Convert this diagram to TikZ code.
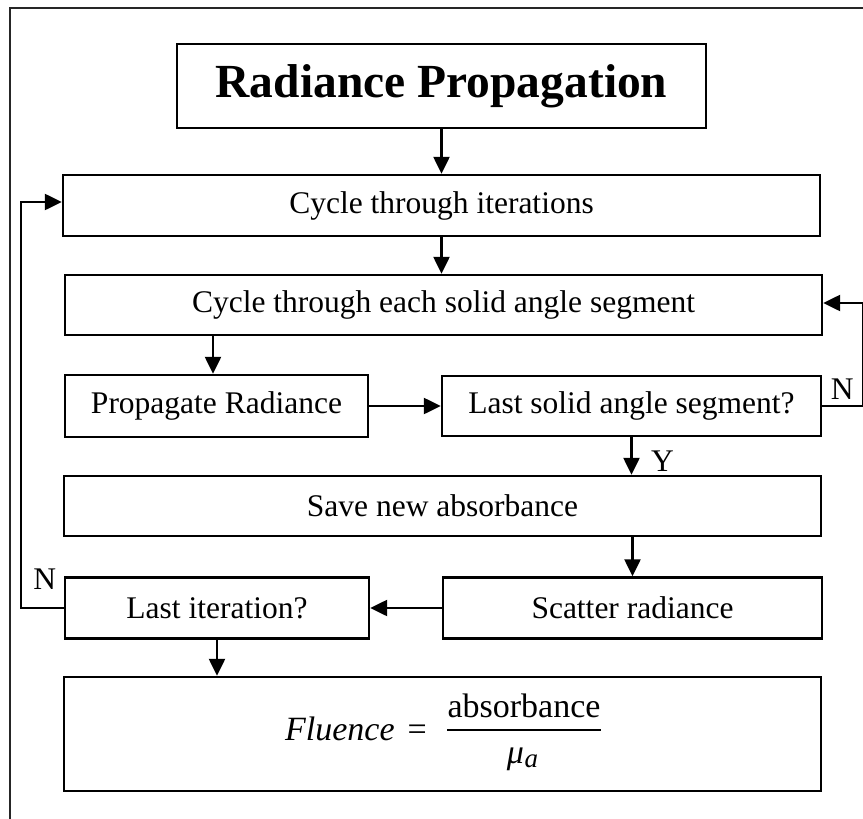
\documentclass[tikz,border=0pt]{standalone}
\usepackage{fontspec}
\setmainfont{Liberation Serif}
\usetikzlibrary{arrows.meta,calc}
\begin{document}
\begin{tikzpicture}[x=1pt,y=-1pt,
  stepbox/.style={draw, line width=2.4pt, inner sep=0pt, font=\fontsize{31.5}{36}\selectfont},
  flow/.style={line width=2.4pt, -{Triangle[length=17pt,width=16pt]}},
  tag/.style={inner sep=0pt, font=\fontsize{31.5}{36}\selectfont},
  formula/.style={inner sep=0pt, font=\fontsize{34}{40}\selectfont}]
\useasboundingbox (0,0) rectangle (863,819);

% page frame (top and left edges)
\draw[line width=2.2pt, black!85] (10,819) -- (10,8) -- (863,8);

% boxes
\node[stepbox, minimum width=529pt, minimum height=84pt, font=\fontsize{47.5}{52}\bfseries] (title) at (441.5,86) {Radiance Propagation};
\node[stepbox, minimum width=757pt, minimum height=61pt] (iter) at (441.5,205.5) {Cycle through iterations};
\node[stepbox, minimum width=757pt, minimum height=60pt] (solid) at (443.5,305) {Cycle through each solid angle segment};
\node[stepbox, minimum width=303pt, minimum height=62pt] (prop) at (216.5,406) {Propagate Radiance};
\node[stepbox, minimum width=379pt, minimum height=60pt] (lastseg) at (631.5,406) {Last solid angle segment?};
\node[stepbox, minimum width=757pt, minimum height=60pt] (save) at (442.5,506) {Save new absorbance};
\node[stepbox, minimum width=379pt, minimum height=61pt] (scatter) at (632.5,608) {Scatter radiance};
\node[stepbox, minimum width=304pt, minimum height=61pt] (lastit) at (217,608) {Last iteration?};
\node[stepbox, minimum width=757pt, minimum height=114pt] (flu) at (442.5,734) {};

% fluence formula
\node[formula, anchor=base east] (flulhs) at ($(flu.center)+(-15.5,6)$) {\textit{Fluence}\hspace{13pt}=};
\node[formula, anchor=base] (flunum) at ($(flu.center)+(81.5,-17)$) {absorbance};
\node[formula, anchor=base] (fluden) at ($(flu.center)+(80,29)$) {\textit{μ}\kern0.5pt\raisebox{-4pt}{\fontsize{27}{27}\selectfont\itshape a}};
\draw[line width=2.2pt] (flunum.west |- 0,730) -- (flunum.east |- 0,730);

% connectors
\draw[flow] (title.south) -- (title.south |- iter.north);
\draw[flow] (iter.south) -- (iter.south |- solid.north);
\draw[flow] ([xshift=-3.5pt]prop.north |- solid.south) -- ([xshift=-3.5pt]prop.north);
\draw[flow] (prop.east) -- (lastseg.west);
\draw[flow] (lastseg.south) -- (lastseg.south |- save.north);
\draw[flow] (save.south -| scatter.north) -- (scatter.north);
\draw[flow] (scatter.west) -- (lastit.east);
\draw[flow] (lastit.south) -- (lastit.south |- flu.north);

% "no" loops
\draw[flow] (lastseg.east) -- ++(41,0) coordinate (segturn) |- ([yshift=2pt]solid.east);
\draw[flow] (lastit.west) -- ++(-43,0) coordinate (itturn) |- ([yshift=3.5pt]iter.west);

% branch labels
\node[tag] (nseg) at ($(lastseg.east)+(20,-17)$) {N};
\node[tag] (yseg) at ($(lastseg.south)+(31,24)$) {Y};
\node[tag] (nit) at ($(lastit.west)+(-19,-29)$) {N};
\end{tikzpicture}
\end{document}
